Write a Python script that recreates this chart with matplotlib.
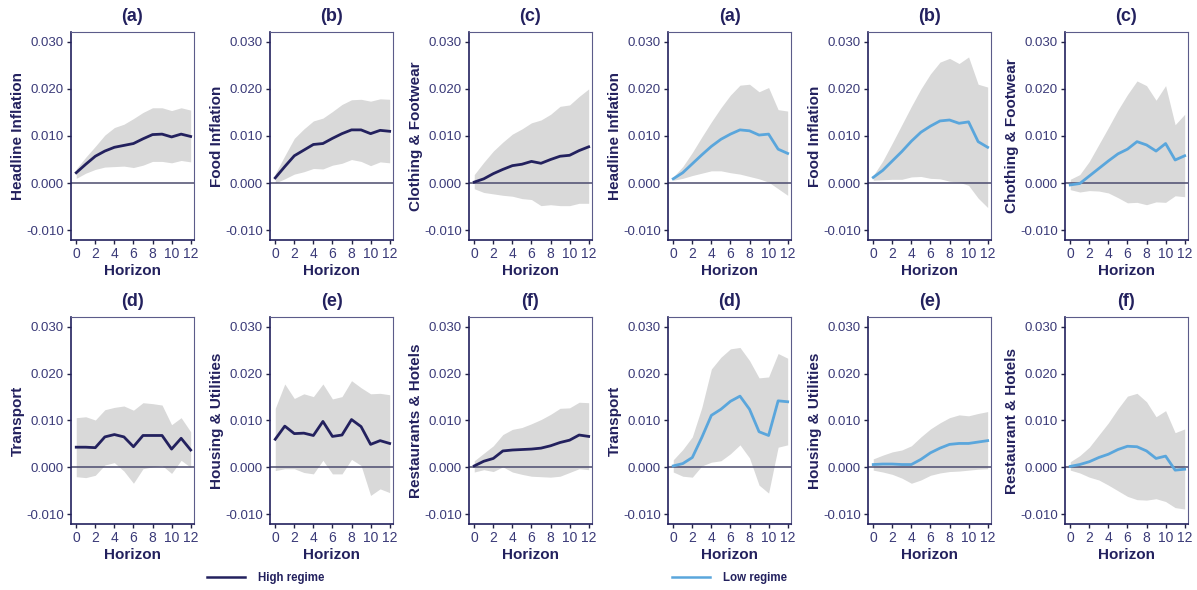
import numpy as np
import matplotlib
matplotlib.use("Agg")
import matplotlib.pyplot as plt
from matplotlib.lines import Line2D

plt.rcParams['font.family'] = ['Liberation Sans', 'DejaVu Sans']

horizon = np.arange(13)

# high regime: headline, food, clothing, transport, housing, restaurants
high_irf = [
    [0.0022, 0.0040, 0.0057, 0.0068, 0.0076, 0.0080, 0.0084, 0.0094, 0.0103, 0.0104, 0.0098, 0.0104, 0.0099],
    [0.0011, 0.0035, 0.0058, 0.0070, 0.0082, 0.0084, 0.0095, 0.0105, 0.0113, 0.0113, 0.0105, 0.0112, 0.0110],
    [0.0002, 0.0009, 0.0020, 0.0029, 0.0037, 0.0040, 0.0046, 0.0042, 0.0050, 0.0057, 0.0059, 0.0069, 0.0077],
    [0.0043, 0.0043, 0.0042, 0.0065, 0.0070, 0.0065, 0.0044, 0.0068, 0.0068, 0.0068, 0.0039, 0.0062, 0.0037],
    [0.0060, 0.0088, 0.0072, 0.0073, 0.0068, 0.0098, 0.0066, 0.0069, 0.0102, 0.0087, 0.0049, 0.0057, 0.0051],
    [0.0003, 0.0013, 0.0019, 0.0035, 0.0037, 0.0038, 0.0039, 0.0041, 0.0046, 0.0053, 0.0058, 0.0069, 0.0066],
]
high_up = [
    [0.0030, 0.0055, 0.0078, 0.0102, 0.0118, 0.0125, 0.0137, 0.0150, 0.0160, 0.0160, 0.0154, 0.0160, 0.0155],
    [0.0020, 0.0058, 0.0095, 0.0115, 0.0132, 0.0138, 0.0152, 0.0167, 0.0177, 0.0178, 0.0174, 0.0179, 0.0178],
    [0.0018, 0.0044, 0.0068, 0.0087, 0.0104, 0.0115, 0.0128, 0.0134, 0.0146, 0.0163, 0.0166, 0.0184, 0.0200],
    [0.0106, 0.0108, 0.0101, 0.0123, 0.0128, 0.0131, 0.0122, 0.0138, 0.0136, 0.0133, 0.0091, 0.0106, 0.0076],
    [0.0126, 0.0178, 0.0147, 0.0157, 0.0151, 0.0178, 0.0146, 0.0151, 0.0185, 0.0170, 0.0157, 0.0158, 0.0155],
    [0.0014, 0.0030, 0.0046, 0.0070, 0.0081, 0.0085, 0.0093, 0.0102, 0.0113, 0.0126, 0.0127, 0.0139, 0.0138],
]
high_lo = [
    [0.0010, 0.0021, 0.0029, 0.0034, 0.0035, 0.0036, 0.0033, 0.0038, 0.0046, 0.0046, 0.0043, 0.0048, 0.0045],
    [0.0000, 0.0009, 0.0019, 0.0024, 0.0031, 0.0030, 0.0038, 0.0042, 0.0050, 0.0046, 0.0037, 0.0045, 0.0043],
    [-0.0012, -0.0020, -0.0023, -0.0026, -0.0028, -0.0033, -0.0035, -0.0048, -0.0046, -0.0048, -0.0048, -0.0043, -0.0043],
    [-0.0020, -0.0022, -0.0017, 0.0005, 0.0010, -0.0008, -0.0034, -0.0003, 0.0001, 0.0004, -0.0013, 0.0015, 0.0000],
    [-0.0007, -0.0003, -0.0003, -0.0011, -0.0014, 0.0015, -0.0014, -0.0014, 0.0017, 0.0004, -0.0060, -0.0046, -0.0054],
    [-0.0010, -0.0005, -0.0009, 0.0001, -0.0010, -0.0015, -0.0019, -0.0020, -0.0021, -0.0019, -0.0011, -0.0003, -0.0005],
]

# low regime
low_irf = [
    [0.0009, 0.0022, 0.0041, 0.0060, 0.0078, 0.0093, 0.0104, 0.0113, 0.0111, 0.0102, 0.0104, 0.0072, 0.0063],
    [0.0012, 0.0027, 0.0047, 0.0067, 0.0089, 0.0108, 0.0121, 0.0132, 0.0134, 0.0127, 0.0130, 0.0088, 0.0076],
    [-0.0004, -0.0001, 0.0015, 0.0031, 0.0047, 0.0062, 0.0072, 0.0088, 0.0081, 0.0068, 0.0084, 0.0049, 0.0058],
    [0.0003, 0.0008, 0.0021, 0.0064, 0.0111, 0.0124, 0.0141, 0.0152, 0.0124, 0.0076, 0.0068, 0.0142, 0.0140],
    [0.0006, 0.0007, 0.0007, 0.0006, 0.0006, 0.0017, 0.0031, 0.0041, 0.0049, 0.0051, 0.0051, 0.0054, 0.0057],
    [0.0002, 0.0006, 0.0012, 0.0021, 0.0028, 0.0038, 0.0045, 0.0044, 0.0035, 0.0019, 0.0024, -0.0006, -0.0004],
]
low_up = [
    [0.0013, 0.0035, 0.0065, 0.0098, 0.0130, 0.0160, 0.0187, 0.0208, 0.0210, 0.0194, 0.0203, 0.0156, 0.0153],
    [0.0016, 0.0047, 0.0085, 0.0124, 0.0163, 0.0200, 0.0232, 0.0257, 0.0265, 0.0254, 0.0268, 0.0210, 0.0204],
    [0.0008, 0.0018, 0.0046, 0.0082, 0.0118, 0.0155, 0.0188, 0.0217, 0.0207, 0.0176, 0.0207, 0.0124, 0.0146],
    [0.0016, 0.0038, 0.0065, 0.0128, 0.0210, 0.0235, 0.0253, 0.0256, 0.0228, 0.0191, 0.0193, 0.0243, 0.0233],
    [0.0018, 0.0026, 0.0033, 0.0037, 0.0046, 0.0065, 0.0082, 0.0095, 0.0106, 0.0112, 0.0110, 0.0115, 0.0119],
    [0.0012, 0.0025, 0.0043, 0.0069, 0.0095, 0.0125, 0.0152, 0.0158, 0.0140, 0.0108, 0.0121, 0.0074, 0.0082],
]
low_lo = [
    [0.0006, 0.0010, 0.0016, 0.0021, 0.0026, 0.0026, 0.0022, 0.0019, 0.0014, 0.0009, 0.0002, -0.0012, -0.0026],
    [0.0006, 0.0007, 0.0008, 0.0008, 0.0013, 0.0014, 0.0010, 0.0009, 0.0004, 0.0002, -0.0005, -0.0032, -0.0052],
    [-0.0014, -0.0019, -0.0016, -0.0017, -0.0021, -0.0031, -0.0042, -0.0041, -0.0046, -0.0040, -0.0041, -0.0027, -0.0029],
    [-0.0010, -0.0019, -0.0021, 0.0003, 0.0011, 0.0014, 0.0029, 0.0048, 0.0020, -0.0038, -0.0055, 0.0043, 0.0048],
    [-0.0006, -0.0010, -0.0015, -0.0023, -0.0034, -0.0027, -0.0017, -0.0012, -0.0009, -0.0008, -0.0006, -0.0004, -0.0003],
    [-0.0006, -0.0012, -0.0021, -0.0027, -0.0038, -0.0050, -0.0062, -0.0069, -0.0070, -0.0067, -0.0073, -0.0086, -0.0089],
]

panel_titles = ['(a)', '(b)', '(c)', '(d)', '(e)', '(f)']
high_labels = ['Headline Inflation', 'Food Inflation', 'Clothing & Footwear',
               'Transport', 'Housing & Utilities', 'Restaurants & Hotels']
low_labels = ['Headline Inflation', 'Food Inflation', 'Chothing & Footwear',
              'Transport', 'Housing & Utilities', 'Restaurant & Hotels']
legend_labels = ['High regime', 'Low regime']

yticks = [-0.010, 0.000, 0.010, 0.020, 0.030]
xticks = [0, 2, 4, 6, 8, 10, 12]

navy = '#23215e'
light_blue = '#5aa6dc'
band = '#d9d9d9'
tick_col = '#3a3a78'

W, H = 1197, 590
fig = plt.figure(figsize=(W / 100, H / 100), dpi=100)

lefts = [71, 270, 469, 668, 868, 1065]
ax_w = 123
rows = [(32, 240), (317, 524)]


def draw_panel(ax, irf, lo, up, color, title, ylabel):
    ax.fill_between(horizon, lo, up, color=band, lw=0)
    ax.axhline(0, color='#4b4b6e', lw=1.1)
    ax.plot(horizon, irf, color=color, lw=2)
    ax.set_xlim(-0.55, 12.35)
    ax.set_ylim(-0.0121, 0.0321)
    ax.set_yticks(yticks)
    ax.set_yticklabels([f'{v:.3f}' for v in yticks])
    ax.set_xticks(xticks)
    ax.tick_params(colors=tick_col, labelsize=9.5, length=3, width=1, pad=2)
    ax.tick_params(axis='x', labelsize=10)
    ax.tick_params(axis='both', color='#222244')
    for s in ['left', 'bottom']:
        ax.spines[s].set_color(navy)
        ax.spines[s].set_linewidth(1.2)
    for s in ['top', 'right']:
        ax.spines[s].set_color('#5c5c8a')
        ax.spines[s].set_linewidth(0.8)
    ax.set_title(title, fontsize=13, fontweight='bold', color=navy, pad=8)
    ax.set_ylabel(ylabel, fontsize=11, fontweight='bold', color=navy, labelpad=1)
    ax.set_xlabel('Horizon', fontsize=11, fontweight='bold', color=navy, labelpad=2)


for k in range(6):
    r = k // 3
    c = k % 3
    top, bot = rows[r]
    # high regime panels on the left half
    ax = fig.add_axes([lefts[c] / W, 1 - bot / H, ax_w / W, (bot - top) / H])
    draw_panel(ax, high_irf[k], high_lo[k], high_up[k], navy, panel_titles[k], high_labels[k])
    # low regime panels on the right half
    ax = fig.add_axes([lefts[c + 3] / W, 1 - bot / H, ax_w / W, (bot - top) / H])
    draw_panel(ax, low_irf[k], low_lo[k], low_up[k], light_blue, panel_titles[k], low_labels[k])

for lab, col, xpos in zip(legend_labels, [navy, light_blue], [207, 672]):
    h = Line2D([], [], color=col, lw=1.8)
    leg = fig.legend([h], [lab], loc='center left', bbox_to_anchor=(xpos / W, 1 - 578 / H),
                     frameon=False, borderpad=0, borderaxespad=0, handlelength=3.3,
                     handletextpad=1.1, prop={'size': 8.3, 'weight': 'bold'})
    for t in leg.get_texts():
        t.set_color(navy)

fig.savefig('out.png', dpi=100)
